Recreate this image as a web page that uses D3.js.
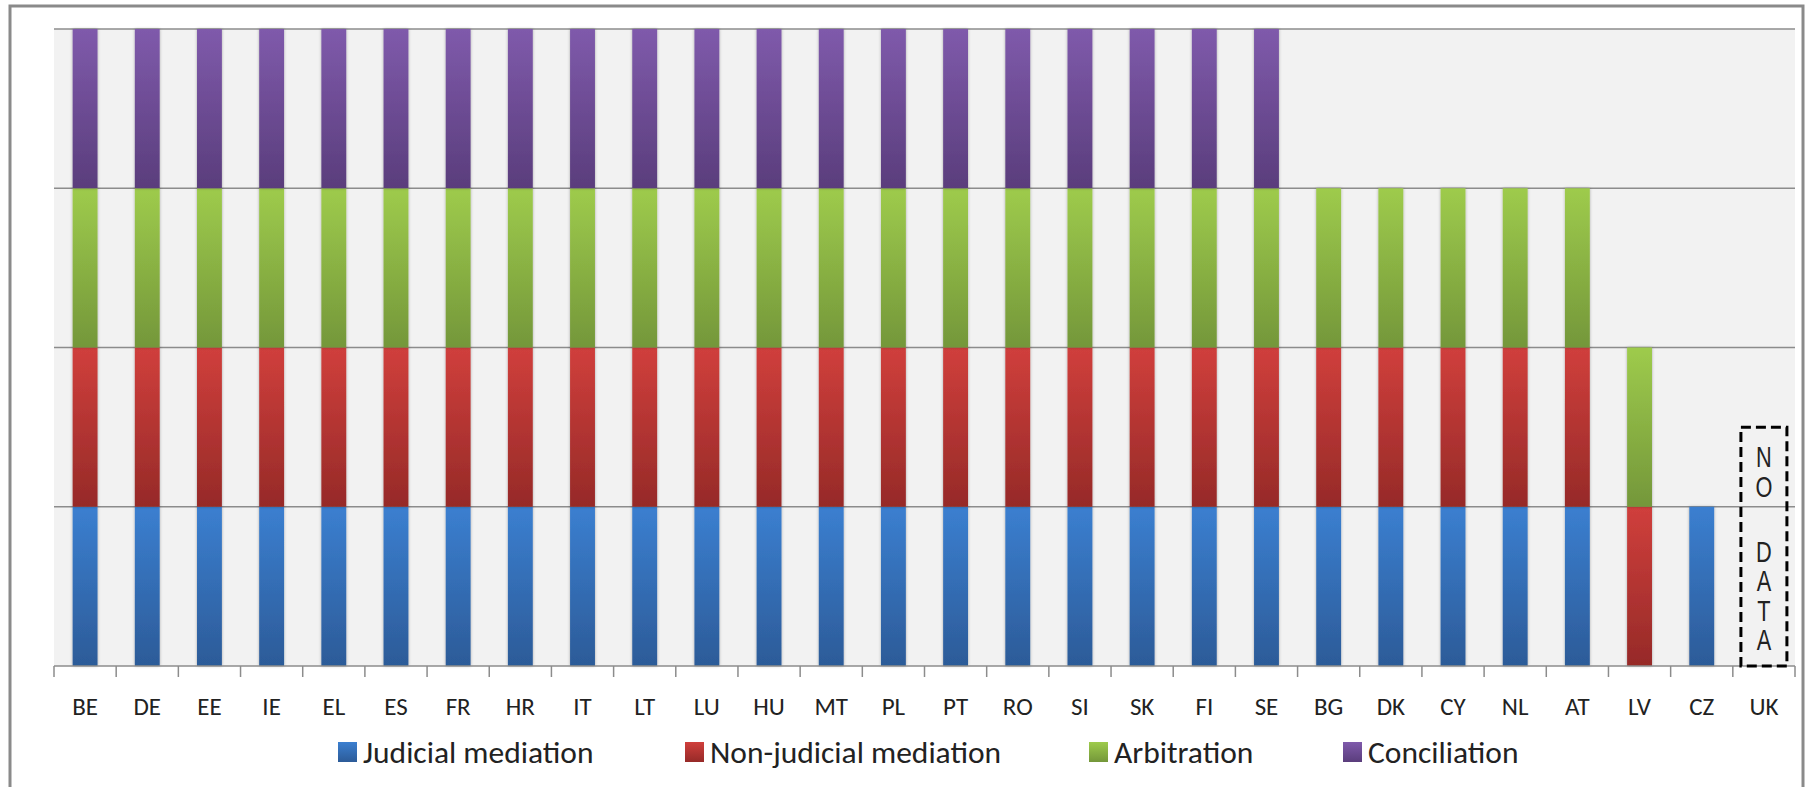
<!DOCTYPE html>
<html>
<head>
<meta charset="utf-8">
<script src="https://cdn.jsdelivr.net/npm/d3@7"></script>
<style>
  body { margin: 0; background: #fff; }
  svg { display: block; }
</style>
</head>
<body>
<svg id="chart" width="1806" height="787"></svg>
<script>
// Countries on the x axis
const countries = ["BE", "DE", "EE", "IE", "EL", "ES", "FR", "HR", "IT", "LT", "LU", "HU", "MT", "PL",
  "PT", "RO", "SI", "SK", "FI", "SE", "BG", "DK", "CY", "NL", "AT", "LV", "CZ", "UK"];

// 1 = available, 0 = not available
const judicial     = [1,1,1,1,1,1,1,1,1,1,1,1,1,1,1,1,1,1,1,1, 1,1,1,1,1, 0, 1, 0];
const nonJudicial  = [1,1,1,1,1,1,1,1,1,1,1,1,1,1,1,1,1,1,1,1, 1,1,1,1,1, 1, 0, 0];
const arbitration  = [1,1,1,1,1,1,1,1,1,1,1,1,1,1,1,1,1,1,1,1, 1,1,1,1,1, 1, 0, 0];
const conciliation = [1,1,1,1,1,1,1,1,1,1,1,1,1,1,1,1,1,1,1,1, 0,0,0,0,0, 0, 0, 0];

const seriesNames = ["Judicial mediation", "Non-judicial mediation", "Arbitration", "Conciliation"];
const yTicks = [0, 1, 2, 3, 4];
const noDataCountry = "UK";
const noDataLetters = ["N", "O", "", "D", "A", "T", "A"];

const svg = d3.select("#chart");
const margin = { left: 54, right: 11, top: 29, bottom: 121 };
const width = 1806, height = 787;

// colours: [top, bottom] of each gradient
const gradColors = [
  ["#3b7fd0", "#2c5b98"],
  ["#d03f3c", "#962a28"],
  ["#9ecb4c", "#74973a"],
  ["#7f5aab", "#5a3d7c"]
];

const defs = svg.append("defs");
gradColors.forEach((c, i) => {
  const g = defs.append("linearGradient")
    .attr("id", "grad" + i)
    .attr("x1", 0).attr("y1", 0).attr("x2", 0).attr("y2", 1);
  g.append("stop").attr("offset", "0%").attr("stop-color", c[0]);
  g.append("stop").attr("offset", "100%").attr("stop-color", c[1]);
});
const shadow = defs.append("filter").attr("id", "shadow")
  .attr("x", "-30%").attr("y", "-5%").attr("width", "160%").attr("height", "110%");
shadow.append("feDropShadow")
  .attr("dx", 0).attr("dy", 0).attr("stdDeviation", 1.5)
  .attr("flood-color", "#000").attr("flood-opacity", 0.3);

// outer frame
svg.append("rect")
  .attr("x", 10).attr("y", 6)
  .attr("width", 1793).attr("height", 800)
  .attr("fill", "#fff")
  .attr("stroke", "#8a8a8a")
  .attr("stroke-width", 3);

const x = d3.scaleBand()
  .domain(countries)
  .range([margin.left, width - margin.right])
  .paddingInner(0.6)
  .paddingOuter(0.3);

const y = d3.scaleLinear()
  .domain([0, 4])
  .range([height - margin.bottom, margin.top]);

// plot background
svg.append("rect")
  .attr("x", margin.left)
  .attr("y", margin.top)
  .attr("width", width - margin.right - margin.left)
  .attr("height", y(0) - margin.top)
  .attr("fill", "#f2f2f2");

// gridlines
svg.append("g")
  .selectAll("line")
  .data(yTicks.filter(d => d > 0))
  .join("line")
  .attr("x1", margin.left)
  .attr("x2", width - margin.right)
  .attr("y1", d => y(d))
  .attr("y2", d => y(d))
  .attr("stroke", "#8c8c8c")
  .attr("stroke-width", 1.5);

// stacked bars
const table = countries.map((c, i) => ({
  country: c,
  s0: judicial[i], s1: nonJudicial[i], s2: arbitration[i], s3: conciliation[i]
}));
const stacked = d3.stack().keys(["s0", "s1", "s2", "s3"])(table);

svg.append("g")
  .selectAll("g")
  .data(stacked)
  .join("g")
  .attr("fill", (d, i) => `url(#grad${i})`)
  .selectAll("rect")
  .data(d => d.filter(p => p[1] > p[0]))
  .join("rect")
  .attr("x", d => x(d.data.country))
  .attr("width", x.bandwidth())
  .attr("y", d => y(d[1]))
  .attr("height", d => y(d[0]) - y(d[1]))
  .attr("filter", "url(#shadow)");

// x axis
const xAxis = svg.append("g")
  .attr("transform", `translate(0,${y(0)})`);
xAxis.append("line")
  .attr("x1", margin.left).attr("x2", width - margin.right)
  .attr("stroke", "#8c8c8c").attr("stroke-width", 1.5);
const step = x.step();
xAxis.selectAll(".tick")
  .data(d3.range(countries.length + 1))
  .join("line")
  .attr("x1", i => margin.left + i * step)
  .attr("x2", i => margin.left + i * step)
  .attr("y1", 0).attr("y2", 11)
  .attr("stroke", "#8c8c8c").attr("stroke-width", 1.5);
xAxis.selectAll("text")
  .data(countries)
  .join("text")
  .attr("x", d => x(d) + x.bandwidth() / 2)
  .attr("y", 49)
  .attr("text-anchor", "middle")
  .attr("font-family", "Carlito, Lato, sans-serif")
  .attr("font-size", 25)
  .attr("fill", "#222")
  .text(d => d);

// NO DATA box
const bx = x(noDataCountry) + x.bandwidth() / 2;
svg.append("rect")
  .attr("x", bx - 23)
  .attr("y", y(1.5))
  .attr("width", 46)
  .attr("height", y(0) - y(1.5))
  .attr("fill", "none")
  .attr("stroke", "#000")
  .attr("stroke-width", 3)
  .attr("stroke-dasharray", "10,5");
const letterY = [0, 1, 3.2, 4.2, 5.2, 6.2];
svg.append("g")
  .selectAll("text")
  .data(noDataLetters.filter(l => l !== ""))
  .join("text")
  .attr("transform", (d, i) => `translate(${bx},${y(1.5) + 40 + letterY[i] * 29.5}) scale(0.75,1)`)
  .attr("text-anchor", "middle")
  .attr("font-family", "Liberation Sans, Arial, sans-serif")
  .attr("font-size", 29)
  .attr("fill", "#222")
  .text(d => d);

// legend
const legendX = [338, 685, 1089, 1343];
const legend = svg.append("g");
const items = legend.selectAll("g")
  .data(seriesNames)
  .join("g")
  .attr("transform", (d, i) => `translate(${legendX[i]},742)`);
items.append("rect")
  .attr("width", 19).attr("height", 20)
  .attr("fill", (d, i) => `url(#grad${i})`);
items.append("text")
  .attr("x", 25)
  .attr("y", 21)
  .attr("font-family", "Carlito, Lato, sans-serif")
  .attr("font-size", 31.5)
  .attr("fill", "#222")
  .text(d => d);
</script>
</body>
</html>
